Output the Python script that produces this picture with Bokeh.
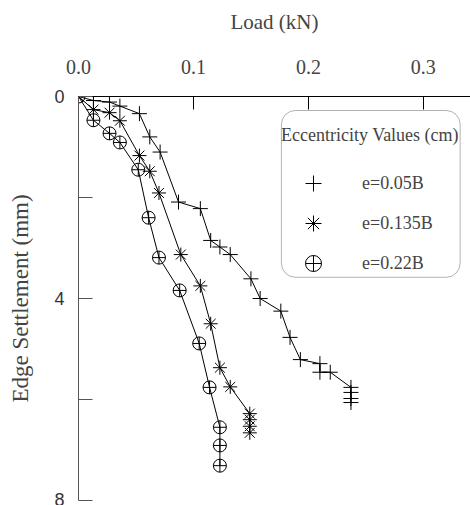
from bokeh.plotting import figure
from bokeh.models import Legend, LegendItem, BoxAnnotation, FixedTicker, Range1d, CustomJSTickFormatter
from bokeh.embed import file_html
from bokeh.resources import INLINE

# ---- data (Load kN, Edge settlement mm) ----
load_a = [0, 0.013, 0.027, 0.036, 0.053, 0.062, 0.071, 0.087, 0.106, 0.115, 0.123, 0.132,
          0.150, 0.158, 0.176, 0.184, 0.193, 0.210, 0.210, 0.219, 0.237, 0.237, 0.237, 0.237]
settle_a = [0, 0.08, 0.11, 0.19, 0.34, 0.80, 1.10, 2.09, 2.22, 2.85, 2.98, 3.13,
            3.61, 4.00, 4.25, 4.77, 5.21, 5.29, 5.46, 5.46, 5.76, 5.86, 5.98, 6.06]

load_b = [0, 0.013, 0.027, 0.036, 0.053, 0.062, 0.070, 0.089, 0.106, 0.115, 0.123, 0.132,
          0.149, 0.149, 0.149, 0.149]
settle_b = [0, 0.26, 0.32, 0.48, 1.17, 1.48, 1.91, 3.13, 3.75, 4.50, 5.37, 5.75,
            6.28, 6.40, 6.53, 6.66]

load_c = [0, 0.013, 0.027, 0.036, 0.052, 0.061, 0.070, 0.088, 0.105, 0.114, 0.123, 0.123, 0.123]
settle_c = [0, 0.47, 0.73, 0.91, 1.45, 2.40, 3.19, 3.84, 4.89, 5.76, 6.55, 6.91, 7.31]

labels = ["e=0.05B", "e=0.135B", "e=0.22B"]
x_ticks = [0.0, 0.1, 0.2, 0.3]
y_ticks = [0, 2, 4, 6, 8]
y_tick_labels = {0: "0", 2: "", 4: "4", 6: "", 8: "8"}

SERIF = "Liberation Serif"
SANS = "Liberation Sans"

p = figure(width=470, height=505, output_backend="svg", toolbar_location=None,
           x_range=Range1d(0, 0.341), y_range=Range1d(8, 0),
           x_axis_location="above",
           min_border_left=78, min_border_top=96, min_border_right=0, min_border_bottom=5)
p.outline_line_color = None
p.xgrid.visible = False
p.ygrid.visible = False
p.background_fill_color = "white"

# x axis (top)
xa = p.xaxis[0]
xa.ticker = FixedTicker(ticks=x_ticks)
xa.formatter = CustomJSTickFormatter(code="return tick.toFixed(1)")
xa.axis_label = "Load (kN)"
xa.axis_label_text_font = SERIF
xa.axis_label_text_font_style = "normal"
xa.axis_label_text_font_size = "21px"
xa.axis_label_standoff = 23
xa.major_label_text_font = SERIF
xa.major_label_text_font_size = "20px"
xa.major_label_standoff = 23
xa.major_tick_in = 13
xa.major_tick_out = 0
xa.minor_tick_in = 0
xa.minor_tick_out = 0
xa.axis_line_color = "black"
xa.major_tick_line_color = "black"

# y axis (left)
ya = p.yaxis[0]
ya.ticker = FixedTicker(ticks=y_ticks)
ya.major_label_overrides = y_tick_labels
ya.axis_label = "Edge Settlement (mm)"
ya.axis_label_text_font = SERIF
ya.axis_label_text_font_style = "normal"
ya.axis_label_text_font_size = "23px"
ya.axis_label_standoff = 18
ya.major_label_text_font = SANS
ya.major_label_text_font_size = "18px"
ya.major_label_standoff = 14
ya.major_tick_in = 14
ya.major_tick_out = 0
ya.minor_tick_in = 0
ya.minor_tick_out = 0
ya.axis_line_color = "#555555"
ya.major_tick_line_color = "#555555"
ya.major_label_text_color = "#333333"

# series
p.line(load_a, settle_a, line_color="black", line_width=1)
s1 = p.scatter(load_a, settle_a, marker="cross", size=15, line_color="black", line_width=1)
p.line(load_b, settle_b, line_color="black", line_width=1)
s2 = p.scatter(load_b, settle_b, marker="asterisk", size=14, line_color="black", line_width=1)
p.line(load_c, settle_c, line_color="black", line_width=1)
s3 = p.scatter(load_c, settle_c, marker="circle_cross", size=13, line_color="black",
               fill_color=None, line_width=1)

# legend frame (rounded box)
box = BoxAnnotation(left=0.1765, right=0.332, top=0.277, bottom=3.58,
                    fill_color="white", fill_alpha=1.0, line_color="black", line_width=1,
                    border_radius=14)
p.add_layout(box)

legend = Legend(items=[LegendItem(label=labels[0], renderers=[s1]),
                       LegendItem(label=labels[1], renderers=[s2]),
                       LegendItem(label=labels[2], renderers=[s3])],
                location=(203, 217), title="Eccentricity Values (cm)",
                title_text_font=SERIF, title_text_font_size="18px", title_text_font_style="normal",
                label_text_font=SERIF, label_text_font_size="18px",
                padding=0, margin=0, spacing=0, glyph_height=40, glyph_width=64,
                label_standoff=17, title_standoff=17,
                border_line_color=None, background_fill_alpha=0)
p.add_layout(legend)

open("out.html", "w").write(file_html(p, INLINE))
